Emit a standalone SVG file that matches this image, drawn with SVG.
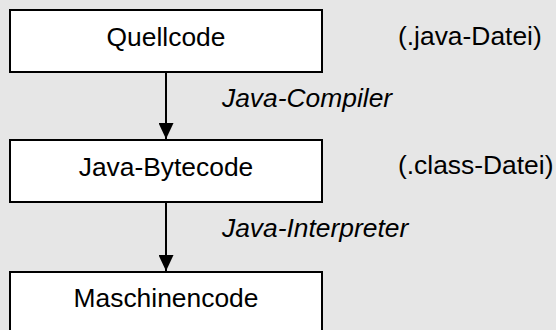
<svg xmlns="http://www.w3.org/2000/svg" width="556" height="330" viewBox="0 0 556 330">
  <defs>
    <style>
      .box { fill: #ffffff; stroke: #000000; stroke-width: 2; }
      .label { font-family: "Liberation Sans", Arial, sans-serif; font-size: 26.4px; fill: #000000; }
      .center { text-anchor: middle; }
      .step { font-style: italic; }
      .edge { stroke: #000000; stroke-width: 2; fill: none; }
    </style>
    <marker id="arrow" viewBox="0 0 16 15" refX="16" refY="7.5" markerWidth="16" markerHeight="15" markerUnits="userSpaceOnUse" orient="auto">
      <path d="M0,0 L16,7.5 L0,15 Z" fill="#000000"/>
    </marker>
  </defs>

  <rect width="556" height="330" fill="#e6e6e6"/>

  <g id="connectors">
    <line class="edge" x1="166" y1="72" x2="166" y2="139" marker-end="url(#arrow)"/>
    <line class="edge" x1="166" y1="202" x2="166" y2="271" marker-end="url(#arrow)"/>
    <text class="label step" x="222" y="107">Java-Compiler</text>
    <text class="label step" x="222" y="237">Java-Interpreter</text>
  </g>

  <g id="quellcode">
    <rect class="box" x="10" y="10" width="312" height="62"/>
    <text class="label center" x="166" y="46">Quellcode</text>
    <text class="label" x="398" y="45">(.java-Datei)</text>
  </g>

  <g id="bytecode">
    <rect class="box" x="10" y="140" width="312" height="62"/>
    <text class="label center" x="166" y="176">Java-Bytecode</text>
    <text class="label" x="398" y="174">(.class-Datei)</text>
  </g>

  <g id="maschinencode">
    <rect class="box" x="10" y="272" width="312" height="70"/>
    <text class="label center" x="166" y="307">Maschinencode</text>
  </g>
</svg>
